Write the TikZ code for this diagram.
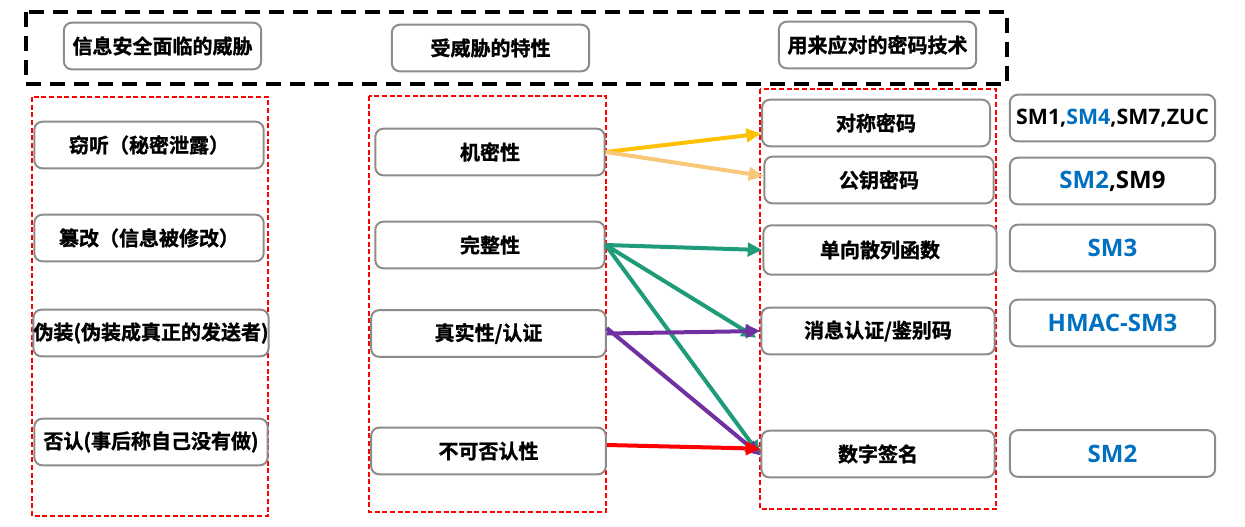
\documentclass[tikz,border=0pt]{standalone}
\usepackage{fontspec}
\usepackage{tikz}
\usetikzlibrary{arrows.meta}
\newfontfamily\cjk{Noto Sans CJK SC}[UprightFont={* Bold},BoldFont={* Bold},BoldFeatures={FakeBold=1.2}]
\newfontfamily\lat{Open Sans}[BoldFont={* Bold}]
\definecolor{boxgray}{RGB}{140,140,140}
\definecolor{smblue}{RGB}{0,112,192}
\definecolor{arryellow}{RGB}{255,192,0}
\definecolor{arrorange}{RGB}{248,200,120}
\definecolor{arrgreen}{RGB}{30,155,120}
\definecolor{arrpurple}{RGB}{112,48,160}

\begin{document}
\begin{tikzpicture}[x=0.75pt,y=0.75pt,yscale=-1,
  hdr/.style={draw=boxgray,line width=1.5pt,rounded corners=6pt,fill=white,
    minimum width=148pt,minimum height=35pt,inner sep=0pt,
    font=\cjk\bfseries\fontsize{15}{18}\selectfont},
  item/.style={hdr,minimum width=172pt},
  alg/.style={hdr,minimum width=154pt,text=smblue,
    font=\lat\bfseries\fontsize{18}{22}\selectfont},
  redbox/.style={draw=red,line width=1.4pt,dash pattern=on 3.75pt off 2pt},
  arr/.style={line width=3pt,-{Triangle[length=11pt,width=10pt]}}]
\useasboundingbox (0,0) rectangle (1245,526);

% dashed frames
\draw [line width=3pt,dash pattern=on 11pt off 7pt] (26,12) rectangle (1007,84);
\draw [redbox] (32,97) rectangle (268,516);
\draw [redbox] (369,96) rectangle (606,512);
\draw [redbox] (760,89) rectangle (996,509);

% headers
\node [hdr] (hthreat) at (162.5,46) {信息安全面临的威胁};
\node [hdr] (hprop) at (490.5,48) {受威胁的特性};
\node [hdr] (htech) at (877.5,45) {用来应对的密码技术};

% threats
\node [item] (eaves) at (149,145) {窃听（秘密泄露）};
\node [item] (tamper) at (149,238) {篡改（信息被修改）};
\node [item,minimum width=175pt] (spoof) at (151,333) {伪装(伪装成真正的发送者)};
\node [item,minimum width=175pt] (deny) at (151,442) {否认(事后称自己没有做)};

% properties
\node [item] (conf) at (490,152) {机密性};
\node [item] (integ) at (490,245) {完整性};
\node [item,minimum width=176pt] (auth) at (488.5,333.5) {真实性/认证};
\node [item,minimum width=176pt] (nonrep) at (488.5,451) {不可否认性};

% techniques
\node [item,minimum width=171pt] (symm) at (876,123) {对称密码};
\node [item] (pubkey) at (879,180) {公钥密码};
\node [item,minimum width=175pt,minimum height=37pt] (hash) at (880,250) {单向散列函数};
\node [item,minimum width=175pt] (mac) at (878,331) {消息认证/鉴别码};
\node [item,minimum width=175pt] (sign) at (878,454) {数字签名};

% algorithms
\node [alg,font=\lat\bfseries\fontsize{16}{20}\selectfont,text=black] (algsymm) at (1112.5,118) {SM1,\textcolor{smblue}{SM4},SM7,ZUC};
\node [alg,text=black] (algpub) at (1112.5,181) {\textcolor{smblue}{SM2},SM9};
\node [alg] (alghash) at (1112.5,248) {SM3};
\node [alg] (algmac) at (1112.5,323) {HMAC-SM3};
\node [alg] (algsign) at (1112.5,453.5) {SM2};

% arrows
\draw [arr,arryellow] (conf.east) -- ([yshift=8pt]symm.west);
\draw [arr,arrorange] (conf.east) -- ([yshift=-3pt]pubkey.west);
\draw [arr,arrgreen] (integ.east) -- (hash.west);
\draw [arr,arrgreen] (integ.east) -- ([xshift=-3pt,yshift=5pt]mac.west);
\draw [arr,arrgreen] (integ.east) -- ([yshift=1pt]sign.west);
\draw [arr,arrpurple] (auth.east) -- (mac.west);
\draw [arr,arrpurple] ([yshift=-4pt]auth.east) -- ([yshift=1pt]sign.west);
\draw [arr,red] ([yshift=-4.5pt]nonrep.east) -- ([yshift=-4pt]sign.west);

\end{tikzpicture}
\end{document}
